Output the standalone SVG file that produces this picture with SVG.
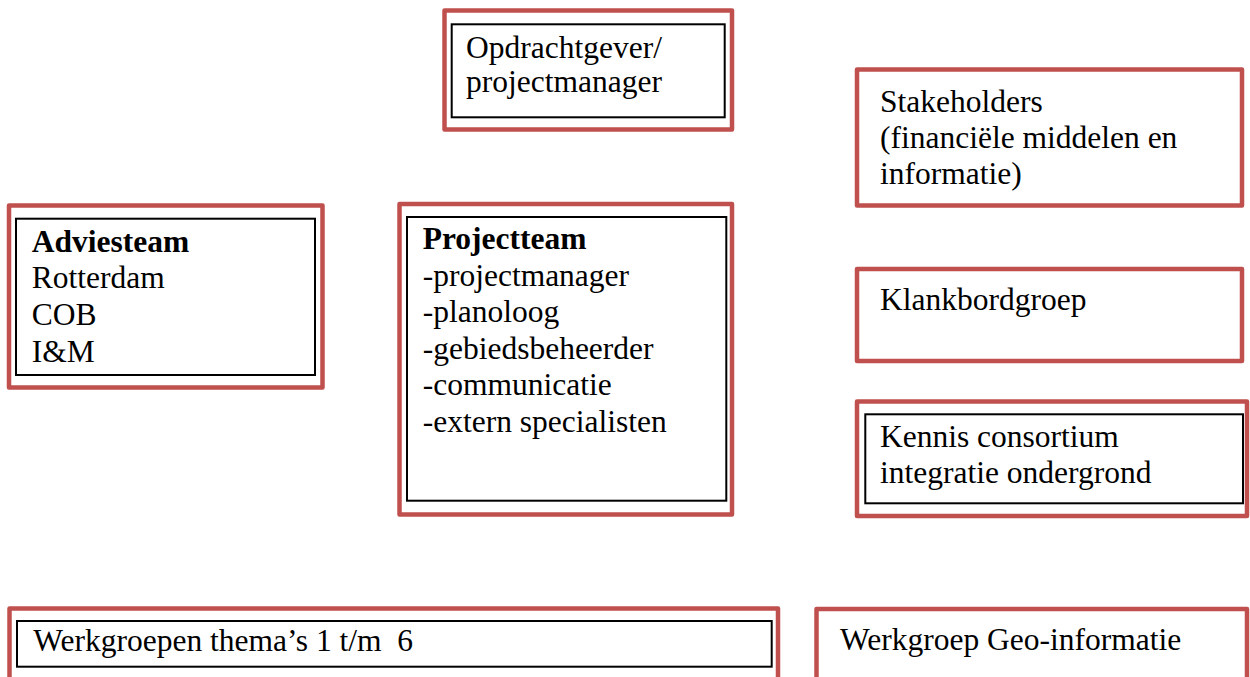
<svg xmlns="http://www.w3.org/2000/svg" width="1250" height="677" viewBox="0 0 1250 677">
<style>
.red{fill:none;stroke:#C0504D;stroke-width:4.5;stroke-linejoin:round}
.blk{fill:none;stroke:#000;stroke-width:2}
text{font-family:"Liberation Serif","Times New Roman",serif;font-size:31.5px;fill:#000}
.b{font-weight:bold}
.pre{white-space:pre}
</style>
<rect width="1250" height="677" fill="#fff"/>
<g id="connectors"></g>
<g id="opdrachtgever">
<rect class="red" x="444.5" y="10.5" width="287.5" height="119"/>
<rect class="blk" x="451.7" y="24.3" width="273" height="93"/>
<text x="466" y="57.5">Opdrachtgever/</text>
<text x="466" y="91.5">projectmanager</text>
</g>
<g id="stakeholders">
<rect class="red" x="857" y="69.5" width="385" height="136"/>
<text x="880" y="111.7">Stakeholders</text>
<text x="880" y="148.3">(financiële middelen en</text>
<text x="880" y="184">informatie)</text>
</g>
<g id="adviesteam">
<rect class="red" x="9" y="205.5" width="313.5" height="182"/>
<rect class="blk" x="16" y="218.7" width="299" height="156.3"/>
<text class="b" x="31.7" y="252.3">Adviesteam</text>
<text x="31.7" y="288.3">Rotterdam</text>
<text x="31.7" y="325">COB</text>
<text x="31.7" y="361.7">I&amp;M</text>
</g>
<g id="projectteam">
<rect class="red" x="399.5" y="204" width="332.5" height="310.5"/>
<rect class="blk" x="407" y="217" width="319.3" height="283.7"/>
<text class="b" x="422.7" y="249.3">Projectteam</text>
<text x="422.7" y="285.7">-projectmanager</text>
<text x="422.7" y="322.3">-planoloog</text>
<text x="422.7" y="358.8">-gebiedsbeheerder</text>
<text x="422.7" y="395.3">-communicatie</text>
<text x="422.7" y="431.8">-extern specialisten</text>
</g>
<g id="klankbordgroep">
<rect class="red" x="857" y="269" width="385" height="92"/>
<text x="880" y="310">Klankbordgroep</text>
</g>
<g id="kennis">
<rect class="red" x="857" y="401.5" width="390" height="114.5"/>
<rect class="blk" x="865.3" y="414.3" width="377.7" height="89"/>
<text x="880" y="446.7">Kennis consortium</text>
<text x="880" y="482.7">integratie ondergrond</text>
</g>
<g id="werkgroepen">
<rect class="red" x="9.5" y="608.5" width="768.5" height="90"/>
<rect class="blk" x="17" y="621" width="754.7" height="45.7"/>
<text class="pre" xml:space="preserve" x="33.3" y="651">Werkgroepen thema’s 1 t/m  6</text>
</g>
<g id="geo">
<rect class="red" x="816.5" y="609" width="430.5" height="90"/>
<text x="840" y="650">Werkgroep Geo-informatie</text>
</g>
</svg>
